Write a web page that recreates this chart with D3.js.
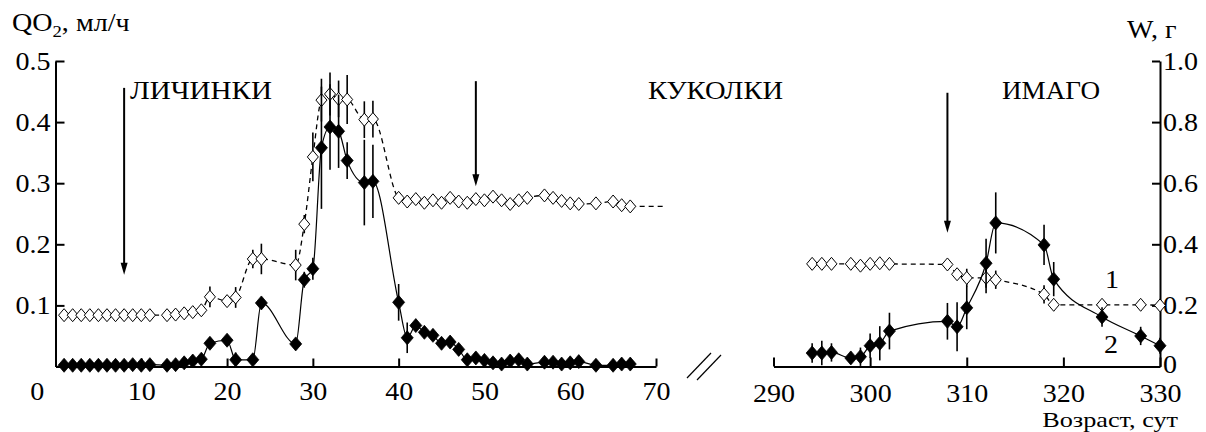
<!DOCTYPE html>
<html><head><meta charset="utf-8">
<script src="https://cdn.jsdelivr.net/npm/d3@7"></script>
<style>
html,body{margin:0;padding:0;background:#fff;}
svg text{font-family:'Liberation Serif','DejaVu Serif','Times New Roman',Times,serif !important;fill:#000;}
</style></head>
<body><svg id="chart" width="1206" height="432"></svg>
<script>
// ---------- data ----------
// series 2 (filled diamonds): QO2, ml/h (left axis)
const qo2DaysLeft = [1,2,3,4,5,6,7,8,9,10,11,13,14,15,16,17,18,20,21,23,24,28,29,30,31,32,33,34,36,37,40,41,42,43,44,45,46,47,48,49,50,51,52,53,54,55,57,58,59,60,61,63,65,66,67];
const qo2Left     = [0.002,0.002,0.002,0.002,0.002,0.002,0.002,0.002,0.003,0.002,0.003,0.002,0.003,0.006,0.009,0.012,0.038,0.043,0.011,0.011,0.104,0.037,0.142,0.160,0.358,0.392,0.385,0.337,0.301,0.303,0.105,0.047,0.067,0.056,0.051,0.038,0.040,0.028,0.011,0.014,0.010,0.006,0.004,0.009,0.011,0.004,0.007,0.007,0.004,0.006,0.008,0.002,0.002,0.004,0.004];
const qo2ErrLeft  = [0,0,0,0,0,0,0,0,0,0,0,0,0,0,0,0,0,0,0.012,0,0,0,0.013,0.018,0.10,0.07,0.06,0.03,0.07,0.06,0.03,0.025,0,0,0,0,0,0,0,0,0,0,0,0,0,0,0,0,0,0,0,0,0,0,0];
// series 1 (open diamonds): W, g (right axis)
const wDaysLeft = [1,2,3,4,5,6,7,8,9,10,11,13,14,15,16,17,18,20,21,23,24,28,29,30,31,32,33,34,36,37,40,41,42,43,44,45,46,47,48,49,50,51,52,53,54,55,57,58,59,60,61,63,65,66,67];
const wLeft     = [0.168,0.168,0.168,0.168,0.168,0.168,0.168,0.168,0.168,0.168,0.168,0.168,0.170,0.174,0.178,0.184,0.228,0.214,0.226,0.352,0.352,0.332,0.466,0.686,0.872,0.892,0.876,0.874,0.808,0.810,0.552,0.540,0.548,0.536,0.544,0.536,0.552,0.540,0.536,0.548,0.544,0.556,0.544,0.532,0.544,0.552,0.560,0.552,0.542,0.534,0.532,0.534,0.540,0.528,0.524];
const wErrLeft  = [0,0,0,0,0,0,0,0,0,0,0,0,0,0,0,0,0.034,0,0.034,0.03,0.05,0.05,0.03,0.08,0.07,0.07,0.06,0.08,0.06,0.06,0,0,0,0,0,0,0,0,0,0,0,0,0,0,0,0,0,0,0,0,0,0,0,0,0];
const wLineEndDay = 71;   // dashed line of series 1 continues past the last marker

const qo2DaysRight = [294,295,296,298,299,300,301,302,308,309,310,312,313,318,319,324,328,330];
const qo2Right     = [0.022,0.022,0.023,0.014,0.016,0.034,0.038,0.058,0.074,0.065,0.096,0.169,0.235,0.199,0.143,0.081,0.050,0.034];
const qo2ErrRight  = [0.016,0.02,0.015,0.01,0.015,0.02,0.028,0.03,0.03,0.04,0.035,0.04,0.05,0.033,0.028,0.016,0.015,0.013];
const wDaysRight = [294,295,296,298,299,300,301,302,308,309,310,312,313,318,319,324,328,330];
const wRight     = [0.336,0.336,0.336,0.336,0.330,0.336,0.338,0.336,0.334,0.302,0.290,0.290,0.284,0.236,0.202,0.202,0.202,0.200];
const wErrRight  = [0,0,0,0,0,0,0,0,0,0,0.03,0.05,0.03,0.03,0,0,0,0];

const xTicksLeft  = [0,10,20,30,40,50,60,70];
const xTicksRight = [290,300,310,320,330];
const yTicksLeft  = [0.1,0.2,0.3,0.4,0.5];
const yTicksRight = [0,0.2,0.4,0.6,0.8,1.0];

const stageNames = ["ЛИЧИНКИ","КУКОЛКИ","ИМАГО"];
const arrowDays  = [8, 49, 308];
const arrowTop   = [0.456, 0.467, 0.448];   // QO2 units
const arrowBot   = [0.150, 0.295, 0.219];

const yLabelLeft = ["QO","2",", мл/ч"];
const yLabelRight = "W, г";
const xLabel = "Возраст, сут";
const seriesLabels = ["1","2"];

// ---------- scales ----------
const svg = d3.select("#chart");
const xL = d3.scaleLinear().domain([0,70]).range([55.5,656]);
const xR = d3.scaleLinear().domain([290,330]).range([773.5,1160]);
const yQ = d3.scaleLinear().domain([0,0.5]).range([366.5,61]);
const yW = d3.scaleLinear().domain([0,1.0]).range([366.5,61]);
const FS = 25.5;
const SX = 1.1;   // reference typeface is a little wider than Liberation Serif
const FF = "Liberation Serif";

// ---------- axes ----------
const axL = svg.append("g").attr("transform","translate(55.5,0)")
  .call(d3.axisLeft(yQ).tickValues(yTicksLeft).tickFormat(d3.format(".1f")).tickSizeInner(-9).tickSizeOuter(0).tickPadding(5));
const axR = svg.append("g").attr("transform","translate(1160,0)")
  .call(d3.axisRight(yW).tickValues(yTicksRight).tickFormat(d=>d===0?"0":d3.format(".1f")(d)).tickSizeInner(-8).tickSizeOuter(0).tickPadding(3));
const axBL = svg.append("g").attr("transform","translate(0,366.5)")
  .call(d3.axisBottom(xL).tickValues(xTicksLeft).tickSizeInner(-8).tickSizeOuter(0));
const axBR = svg.append("g").attr("transform","translate(0,366.5)")
  .call(d3.axisBottom(xR).tickValues(xTicksRight).tickSizeInner(-9).tickSizeOuter(0));
[axL,axR,axBL,axBR].forEach(g=>{
  g.attr("font-family",FF).attr("font-size",FS);
  g.selectAll("path,line").attr("stroke","#000").attr("stroke-width",2);
  g.selectAll("text").attr("font-size",FS).attr("font-family",FF).attr("fill","#000");
});
axL.selectAll("text").attr("dy","0.33em").attr("x",-5/SX).attr("transform",`scale(${SX},1)`);
axR.selectAll("text").attr("dy",d=>d===0?"0.24em":"0.33em").attr("x",3/SX).attr("transform",`scale(${SX},1)`);
axBL.selectAll("text").attr("y",15).attr("dy","0.71em").attr("transform",`scale(${SX},1)`);
axBR.selectAll("text").attr("y",17.4).attr("dy","0.71em").attr("transform",`scale(${SX},1)`);
axBL.selectAll(".tick").filter(d=>d===0).select("text").attr("dx",-17);
axBL.selectAll(".tick").filter(d=>d===0).select("line").remove();

// axis break marks
const brk = svg.append("g").attr("stroke","#000").attr("stroke-width",1.2);
[[0,0],[10,2]].forEach(([dx,dy])=>{
  brk.append("line").attr("x1",687+dx).attr("y1",378+dy).attr("x2",711+dx).attr("y2",353+dy);
});

// ---------- series ----------
function drawSeries(days, vals, errs, xs, ys, filled, lineEnd){
  const pts = days.map((d,i)=>({x:xs(d), y:ys(vals[i]), e:errs[i], v:vals[i]}));
  const line = d3.line().x(p=>p.x).y(p=>p.y).curve(d3.curveMonotoneX);
  let lp = pts.slice();
  if (lineEnd!==undefined) lp.push({x:xs(lineEnd), y:pts[pts.length-1].y});
  svg.append("path").attr("d",line(lp)).attr("fill","none").attr("stroke","#000")
    .attr("stroke-width",filled?1.2:1.3).attr("stroke-dasharray",filled?null:"5,4");
  const eb = svg.append("g").attr("stroke","#000").attr("stroke-width",1.6);
  days.forEach((d,i)=>{ if(errs[i]>0){
    eb.append("line").attr("x1",xs(d)).attr("x2",xs(d)).attr("y1",ys(vals[i]-errs[i])).attr("y2",ys(vals[i]+errs[i]));
  }});
  const g = svg.append("g");
  const hw = filled?6:5.5, hh = filled?7:6.5;
  g.selectAll("path").data(pts).join("path")
    .attr("d",p=>`M${p.x},${p.y-hh}L${p.x+hw},${p.y}L${p.x},${p.y+hh}L${p.x-hw},${p.y}Z`)
    .attr("fill",filled?"#000":"#fff").attr("stroke","#000").attr("stroke-width",filled?0.8:1);
}
drawSeries(wDaysLeft, wLeft, wErrLeft, xL, yW, false, wLineEndDay);
drawSeries(wDaysRight, wRight, wErrRight, xR, yW, false);
drawSeries(qo2DaysLeft, qo2Left, qo2ErrLeft, xL, yQ, true);
drawSeries(qo2DaysRight, qo2Right, qo2ErrRight, xR, yQ, true);

// ---------- stage arrows and labels ----------
const xs3 = [xL, xL, xR];
const labelX = [130, 648, 1002];
const labelW = [142, 135, 98];
arrowDays.forEach((d,i)=>{
  const x = xs3[i](d), y1 = yQ(arrowTop[i]), y2 = yQ(arrowBot[i]);
  svg.append("line").attr("x1",x).attr("x2",x).attr("y1",y1).attr("y2",y2-10).attr("stroke","#000").attr("stroke-width",2);
  svg.append("path").attr("d",`M${x-3.5},${y2-12}L${x+3.5},${y2-12}L${x},${y2}Z`).attr("fill","#000");
  svg.append("text").attr("x",labelX[i]).attr("y",99).attr("font-size",FS).attr("font-family",FF)
    .attr("textLength",labelW[i]).attr("lengthAdjust","spacingAndGlyphs").text(stageNames[i]);
});

// ---------- axis titles ----------
function label(x, y, anchor, fs, sx){
  return svg.append("text").attr("transform",`translate(${x},${y}) scale(${sx||SX},1)`)
    .attr("text-anchor",anchor).attr("font-size",fs||FS).attr("font-family",FF);
}
const t = label(12, 31, "start");
t.append("tspan").text(yLabelLeft[0]);
t.append("tspan").attr("font-size",17).attr("dy",6).text(yLabelLeft[1]);
t.append("tspan").attr("dy",-6).text(yLabelLeft[2]);
label(1127, 38, "start").text(yLabelRight);
label(1178, 427, "end", 21.5, 1.22).text(xLabel);
label(1112, 288, "middle").text(seriesLabels[0]);
label(1111, 353, "middle").text(seriesLabels[1]);
</script></body></html>
